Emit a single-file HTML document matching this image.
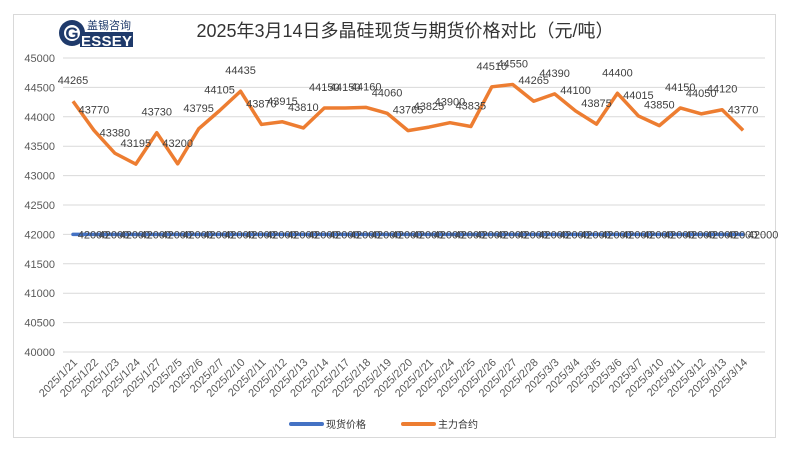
<!DOCTYPE html>
<html><head><meta charset="utf-8"><style>body{margin:0;background:#fff}svg{display:block}</style></head>
<body>
<svg id="s" width="790" height="452" xmlns="http://www.w3.org/2000/svg" font-family="Liberation Sans, Noto Sans CJK SC, sans-serif">
<rect x="13.5" y="14.5" width="762" height="423" fill="#fff" stroke="#d9d9d9"/>
<g>
<circle cx="72" cy="33" r="13" fill="#1f3a6b"/>
<circle cx="72" cy="33" r="8" fill="#fff"/>
<text x="72" y="39" font-size="17" font-weight="bold" fill="#1f3a6b" text-anchor="middle">G</text>
<text x="87" y="29" font-size="11" fill="#1f3a6b">盖锡咨询</text>
<rect x="80" y="32" width="53" height="15" fill="#1f3a6b"/>
<text x="81" y="46" font-size="15" font-weight="bold" fill="#fff" textLength="51">ESSEY</text>
</g>
<text x="405" y="37" font-size="18" fill="#333" text-anchor="middle">2025年3月14日多晶硅现货与期货价格对比（元/吨）</text>
<g id="grid"></g>
<g id="lines"></g>
<g id="xl"></g>
<line x1="291" y1="424" x2="322" y2="424" stroke="#4472c4" stroke-width="4" stroke-linecap="round"/>
<text x="326" y="428" font-size="10" fill="#333">现货价格</text>
<line x1="403" y1="424" x2="434" y2="424" stroke="#ed7d31" stroke-width="4" stroke-linecap="round"/>
<text x="438" y="428" font-size="10" fill="#333">主力合约</text>
</svg>
<script>
var NS="http://www.w3.org/2000/svg";
function el(p,t,a,tx){var e=document.createElementNS(NS,t);for(var k in a)e.setAttribute(k,a[k]);if(tx!=null)e.textContent=tx;document.getElementById(p).appendChild(e);return e;}
var Y=v=>58+(45000-v)/5000*294;
for(var v=40000;v<=45000;v+=500){var y=Y(v);el("grid","line",{x1:63,x2:765,y1:y,y2:y,stroke:"#d9d9d9"});el("grid","text",{x:55,y:y+4,"font-size":11,fill:"#595959","text-anchor":"end"},v);}
var d=["1/21","1/22","1/23","1/24","1/27","2/5","2/6","2/7","2/10","2/11","2/12","2/13","2/14","2/17","2/18","2/19","2/20","2/21","2/24","2/25","2/26","2/27","2/28","3/3","3/4","3/5","3/6","3/7","3/10","3/11","3/12","3/13","3/14"];
var v2=[44265,43770,43380,43195,43730,43200,43795,44105,44435,43870,43915,43810,44150,44150,44160,44060,43765,43825,43900,43835,44510,44550,44265,44390,44100,43875,44400,44015,43850,44150,44050,44120,43770];
var X=i=>73+i*20.94;
el("lines","line",{x1:73,x2:X(32),y1:Y(42000),y2:Y(42000),stroke:"#4472c4","stroke-width":3.5,"stroke-linecap":"round"});
var p=v2.map((v,i)=>X(i)+","+Y(v)).join(" ");
el("lines","polyline",{points:p,fill:"none",stroke:"#ed7d31","stroke-width":3.5,"stroke-linejoin":"round"});
for(var i=0;i<33;i++){
el("lines","text",{x:X(i)+20,y:Y(42000)+4,"font-size":11,fill:"#404040","text-anchor":"middle"},"42000");
el("lines","text",{x:X(i),y:Y(v2[i])-17,"font-size":11,fill:"#404040","text-anchor":"middle"},v2[i]);
var x=X(i)+5,y=363;
el("xl","text",{x:x,y:y,"font-size":11,fill:"#595959","text-anchor":"end",transform:"rotate(-45 "+x+" "+y+")"},"2025/"+d[i]);
}
</script>
</body></html>
